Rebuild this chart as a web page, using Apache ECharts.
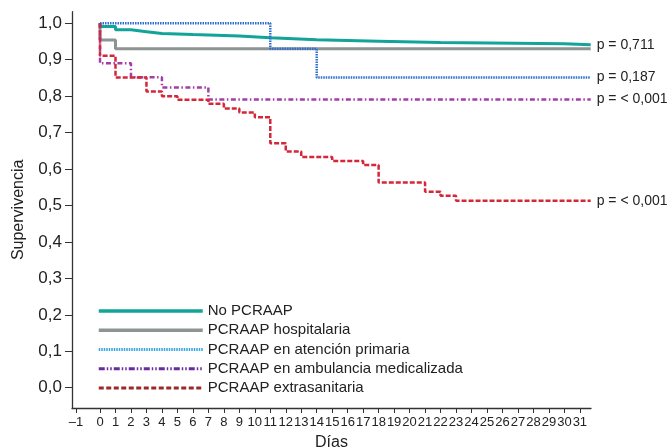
<!DOCTYPE html>
<html>
<head>
<meta charset="utf-8">
<script src="https://cdn.jsdelivr.net/npm/echarts@6/dist/echarts.min.js"></script>
<style>html,body{margin:0;padding:0;background:#fff;}#c{width:668px;height:448px;}</style>
</head>
<body>
<div id="c"></div>
<script>
// ---- data ----
const seriesNames = ['No PCRAAP', 'PCRAAP hospitalaria', 'PCRAAP en atención primaria', 'PCRAAP en ambulancia medicalizada', 'PCRAAP extrasanitaria'];
const lastDay = 31.7;

const tealDays = [0, 0, 1, 2, 3, 4, 6, 9, 11, 14, 18, 22, 30, lastDay];
const tealSurv = [1, 0.991, 0.982, 0.977, 0.972, 0.969, 0.965, 0.960, 0.955, 0.951, 0.947, 0.944, 0.941, 0.941];

const grayDays = [0, 0, 1, lastDay];
const graySurv = [1, 0.954, 0.930, 0.929];

const blueDays = [0, 11, 14, lastDay];
const blueSurv = [1, 0.930, 0.851, 0.851];

const purpleDays = [0, 0, 2, 4, 7, lastDay];
const purpleSurv = [1, 0.890, 0.852, 0.824, 0.791, 0.791];

const redDays = [0, 0, 1, 3, 4, 5, 7, 8, 9, 10, 11, 12, 13, 15, 17, 18, 21, 22, 23, lastDay];
const redSurv = [1, 0.911, 0.851, 0.813, 0.800, 0.790, 0.779, 0.766, 0.755, 0.742, 0.671, 0.648, 0.633, 0.622, 0.611, 0.563, 0.538, 0.527, 0.513, 0.513];

const pLabels = ['p = 0,711', '', 'p = 0,187', 'p = < 0,001', 'p = < 0,001'];

const xTickValues = [-1.55, 0,1,2,3,4,5,6,7,8,9,10,11,12,13,14,15,16,17,18,19,20,21,22,23,24,25,26,27,28,29,30,31];
const xTickLabels = ['\u20131','0','1','2','3','4','5','6','7','8','9','10','11','12','13','14','15','16','17','18','19','20','21','22','23','24','25','26','27','28','29','30','31'];
const yTickValues = [0, 0.1, 0.2, 0.3, 0.4, 0.5, 0.6, 0.7, 0.8, 0.9, 1.0];
const yTickLabels = ['0,0','0,1','0,2','0,3','0,4','0,5','0,6','0,7','0,8','0,9','1,0'];

// ---- chart ----
const pair = (xs, ys) => xs.map((x, i) => [x, ys[i]]);
const font = "'Liberation Sans', Arial, Helvetica, sans-serif";
const txt = '#222';

const styles = [
  { color: '#12a399', width: 3, type: 'solid', z: 3 },
  { color: '#8d9493', width: 3, type: 'solid', z: 2 },
  { color: '#2e6fd0', width: 2.5, type: [1.5, 1], z: 4 },
  { color: '#a23ea6', width: 2.5, type: [5, 2.5, 1.5, 2.5], z: 5 },
  { color: '#d2283a', width: 2.5, type: [5, 2], z: 6 }
];
const legendStyles = [
  { color: '#12a399', type: 'solid', width: 3.5 },
  { color: '#8d9493', type: 'solid', width: 3.5 },
  { color: '#38a6e0', type: [1.5, 1], width: 3 },
  { color: '#6a2c9c', type: [6, 2, 1.5, 2, 1.5, 2], width: 3 },
  { color: '#9a2a2a', type: [5, 2.5], width: 3 }
];
const dataSets = [pair(tealDays, tealSurv), pair(grayDays, graySurv), pair(blueDays, blueSurv), pair(purpleDays, purpleSurv), pair(redDays, redSurv)];

const chart = echarts.init(document.getElementById('c'), null, { renderer: 'canvas' });
chart.setOption({
  animation: false,
  backgroundColor: '#fff',
  textStyle: { fontFamily: font },
  grid: { left: 72, right: 77, top: 11.7, bottom: 40, containLabel: false, outerBoundsMode: 'none' },
  legend: {
    orient: 'vertical', left: 97, top: 303.5, padding: 0,
    itemWidth: 104, itemHeight: 14, itemGap: 4.25,
    textStyle: { fontFamily: font, fontSize: 15, color: txt },
    data: seriesNames.map((n, i) => ({
      name: n,
      itemStyle: { color: legendStyles[i].color, opacity: 0 },
      lineStyle: { color: legendStyles[i].color, type: legendStyles[i].type, width: legendStyles[i].width, cap: 'butt' }
    }))
  },
  xAxis: {
    type: 'value', min: -1.81, max: lastDay + 0.02,
    name: 'Días', nameLocation: 'middle', nameGap: 27,
    nameTextStyle: { fontFamily: font, fontSize: 16, color: txt },
    splitLine: { show: false },
    axisLine: { show: true, onZero: false, lineStyle: { color: '#333', width: 1.3 } },
    axisTick: { show: true, inside: false, length: 5, customValues: xTickValues, lineStyle: { color: '#333', width: 1 } },
    axisLabel: {
      customValues: xTickValues, margin: 8,
      fontFamily: font, fontSize: 13, color: txt,
      formatter: v => xTickLabels[xTickValues.indexOf(v)] ?? ''
    }
  },
  yAxis: {
    type: 'value', min: -0.0557, max: 1.0318,
    name: 'Supervivencia', nameLocation: 'middle', nameGap: 45, nameRotate: 90,
    nameTextStyle: { fontFamily: font, fontSize: 16, color: txt },
    splitLine: { show: false },
    axisLine: { show: true, onZero: false, lineStyle: { color: '#333', width: 1.3 } },
    axisTick: { show: true, inside: false, length: 7, customValues: yTickValues, lineStyle: { color: '#333', width: 1 } },
    axisLabel: {
      customValues: yTickValues, margin: 10,
      fontFamily: font, fontSize: 17, color: txt,
      formatter: v => { const i = yTickValues.findIndex(t => Math.abs(t - v) < 1e-6); return i >= 0 ? yTickLabels[i] : ''; }
    }
  },
  series: seriesNames.map((n, i) => ({
    name: n, type: 'line', step: 'end', symbol: 'none', z: styles[i].z,
    data: dataSets[i],
    lineStyle: { color: styles[i].color, width: styles[i].width, type: styles[i].type, cap: 'butt' },
    itemStyle: { color: styles[i].color },
    endLabel: {
      show: pLabels[i] !== '', formatter: () => pLabels[i], distance: 6,
      fontFamily: font, fontSize: 14, color: txt
    },
    emphasis: { disabled: true }
  }))
});
</script>
</body>
</html>
